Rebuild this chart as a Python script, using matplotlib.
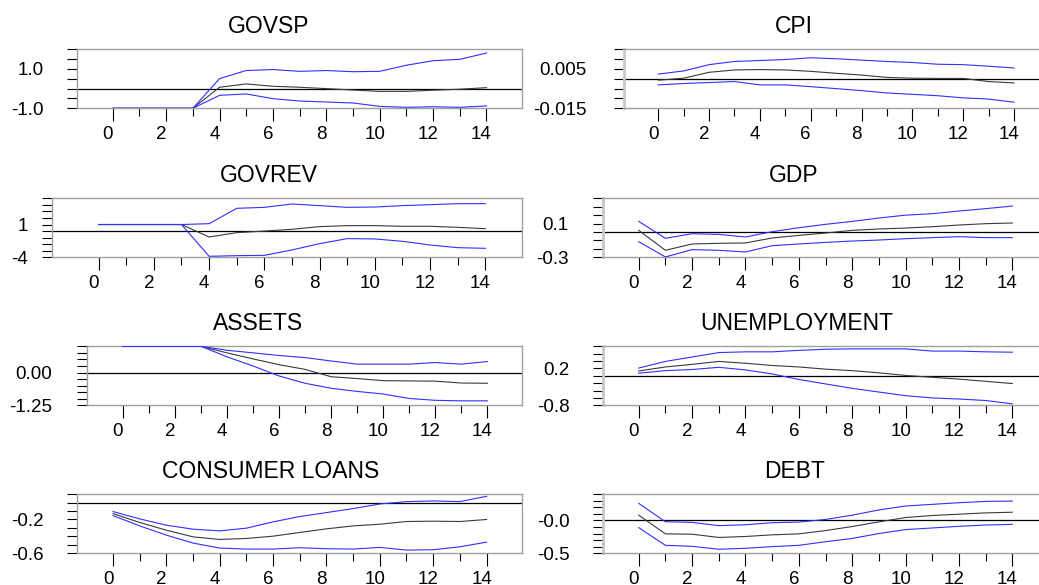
import matplotlib
matplotlib.use('Agg')
import matplotlib.pyplot as plt
import matplotlib.transforms as mtransforms
import numpy as np

plt.rcParams['font.family'] = ['Liberation Sans', 'DejaVu Sans']

# 응답 기간
horizon = list(range(15))

titles = ['GOVSP', 'CPI', 'GOVREV', 'GDP', 'ASSETS', 'UNEMPLOYMENT', 'CONSUMER LOANS', 'DEBT']

# 각 패널: 중앙값(검정), 상한/하한(파랑)
govsp_mid = [-1.0, -1.0, -1.0, -1.0, 0.07, 0.24, 0.12, 0.07, 0.0, -0.07, -0.14, -0.14, -0.08, -0.03, 0.05]
govsp_up = [-1.0, -1.0, -1.0, -1.0, 0.51, 0.92, 0.97, 0.88, 0.92, 0.86, 0.88, 1.19, 1.42, 1.49, 1.81]
govsp_lo = [-1.0, -1.0, -1.0, -1.0, -0.34, -0.27, -0.51, -0.63, -0.68, -0.73, -0.9, -0.95, -0.92, -0.95, -0.88]

cpi_mid = [-0.0007, 0.0003, 0.0033, 0.0045, 0.0047, 0.0045, 0.0038, 0.0028, 0.0019, 0.0007, 0.0003, 0.0002, 0.0002, -0.0014, -0.0021]
cpi_up = [0.0024, 0.004, 0.0072, 0.0088, 0.0093, 0.0098, 0.0107, 0.0102, 0.0095, 0.0088, 0.0083, 0.0074, 0.0072, 0.0064, 0.0055]
cpi_lo = [-0.0031, -0.0024, -0.0019, -0.0014, -0.0031, -0.0031, -0.004, -0.005, -0.006, -0.0072, -0.0079, -0.0086, -0.0097, -0.0103, -0.0119]

govrev_mid = [1.0, 1.0, 1.0, 1.0, -0.9, -0.24, 0.0, 0.27, 0.68, 0.83, 0.83, 0.73, 0.73, 0.57, 0.37]
govrev_up = [1.0, 1.0, 1.0, 1.0, 1.13, 3.47, 3.62, 4.13, 3.88, 3.62, 3.67, 3.88, 4.03, 4.18, 4.18]
govrev_lo = [1.0, 1.0, 1.0, 1.0, -3.85, -3.75, -3.7, -2.88, -1.92, -1.15, -1.2, -1.56, -2.12, -2.53, -2.63]

gdp_mid = [0.02, -0.217, -0.142, -0.134, -0.13, -0.071, -0.04, -0.012, 0.02, 0.036, 0.047, 0.063, 0.083, 0.099, 0.107]
gdp_up = [0.126, -0.075, -0.02, -0.028, -0.059, 0.004, 0.051, 0.091, 0.126, 0.166, 0.2, 0.217, 0.249, 0.277, 0.308]
gdp_lo = [-0.115, -0.296, -0.209, -0.217, -0.237, -0.162, -0.142, -0.123, -0.107, -0.095, -0.079, -0.067, -0.055, -0.067, -0.067]

assets_mid = [1.0, 1.0, 1.0, 1.0, 0.75, 0.52, 0.3, 0.12, -0.16, -0.23, -0.31, -0.32, -0.33, -0.4, -0.41]
assets_up = [1.0, 1.0, 1.0, 1.0, 0.85, 0.75, 0.65, 0.57, 0.44, 0.32, 0.32, 0.32, 0.38, 0.32, 0.42]
assets_lo = [1.0, 1.0, 1.0, 1.0, 0.6, 0.25, -0.13, -0.41, -0.6, -0.72, -0.82, -0.99, -1.06, -1.08, -1.08]

unemp_mid = [0.13, 0.24, 0.31, 0.39, 0.34, 0.28, 0.24, 0.18, 0.14, 0.08, 0.01, -0.04, -0.09, -0.15, -0.21]
unemp_up = [0.21, 0.39, 0.51, 0.63, 0.65, 0.65, 0.69, 0.72, 0.73, 0.73, 0.73, 0.67, 0.67, 0.65, 0.64]
unemp_lo = [0.07, 0.14, 0.17, 0.23, 0.16, 0.05, -0.1, -0.22, -0.34, -0.44, -0.54, -0.6, -0.63, -0.67, -0.76]

loans_mid = [-0.13, -0.236, -0.327, -0.406, -0.437, -0.425, -0.398, -0.354, -0.311, -0.276, -0.256, -0.224, -0.22, -0.224, -0.2]
loans_up = [-0.106, -0.193, -0.268, -0.315, -0.335, -0.303, -0.228, -0.165, -0.118, -0.071, -0.016, 0.012, 0.02, 0.012, 0.075]
loans_lo = [-0.154, -0.276, -0.386, -0.48, -0.539, -0.551, -0.551, -0.535, -0.547, -0.551, -0.531, -0.563, -0.559, -0.524, -0.469]

debt_mid = [0.08, -0.205, -0.21, -0.26, -0.245, -0.22, -0.205, -0.155, -0.093, -0.022, 0.044, 0.075, 0.095, 0.115, 0.125]
debt_up = [0.26, -0.02, -0.03, -0.08, -0.066, -0.035, -0.025, 0.015, 0.08, 0.16, 0.22, 0.245, 0.27, 0.29, 0.295]
debt_lo = [-0.11, -0.38, -0.395, -0.44, -0.425, -0.4, -0.38, -0.325, -0.275, -0.2, -0.14, -0.115, -0.09, -0.07, -0.06]

mids = [govsp_mid, cpi_mid, govrev_mid, gdp_mid, assets_mid, unemp_mid, loans_mid, debt_mid]
ups = [govsp_up, cpi_up, govrev_up, gdp_up, assets_up, unemp_up, loans_up, debt_up]
los = [govsp_lo, cpi_lo, govrev_lo, gdp_lo, assets_lo, unemp_lo, loans_lo, debt_lo]

# y축 범위, 눈금 간격, 표시할 눈금 라벨
y_ranges = [(-1.0, 2.0), (-0.015, 0.015), (-4, 5), (-0.3, 0.4), (-1.25, 1.0), (-0.8, 0.8), (-0.6, 0.1), (-0.5, 0.4)]
y_steps = [0.5, 0.005, 1, 0.1, 0.25, 0.2, 0.1, 0.1]
y_labels = [
    {1.0: '1.0', -1.0: '-1.0'},
    {0.005: '0.005', -0.015: '-0.015'},
    {1: '1', -4: '-4'},
    {0.1: '0.1', -0.3: '-0.3'},
    {0.0: '0.00', -1.25: '-1.25'},
    {0.2: '0.2', -0.8: '-0.8'},
    {-0.2: '-0.2', -0.6: '-0.6'},
    {0.0: '-0.0', -0.5: '-0.5'},
]

W, H = 1039, 585
fig = plt.figure(figsize=(W / 100, H / 100), dpi=100)

# 패널 배치 (픽셀)
left_px = [77, 623.7, 51.7, 602.7, 87.3, 602.7, 77.3, 602.7]
right_px = [522, 1047, 522, 1047, 522, 1047, 522, 1047]
xmins = [-1.34, -1.36, -1.70, -1.35, -1.36, -1.35, -1.34, -1.35]
xmaxs = [15.33, 15.3, 15.33, 15.3, 15.33, 15.3, 15.33, 15.3]
row_top = [49.3, 198.3, 346.3, 494.2]
panel_h = 59
title_x = [269, 794, 269, 794, 258.5, 796.7, 271, 794.2]
label_gap = [33.7, 37, 23.4, 34.4, 35.6, 33.4, 34, 33.4]

gray = '#a0a0a0'
offset = mtransforms.ScaledTranslation(-5 / 100, 0, fig.dpi_scale_trans)

for i in range(8):
    top = row_top[i // 2]
    ax = fig.add_axes([left_px[i] / W, 1 - (top + panel_h) / H,
                       (right_px[i] - left_px[i]) / W, panel_h / H])
    ax.axhline(0, color='black', lw=0.9, zorder=1)
    ax.plot(horizon, mids[i], color='#3a3a3a', lw=0.8, zorder=2)
    ax.plot(horizon, ups[i], color='#3030ff', lw=0.8, zorder=3)
    ax.plot(horizon, los[i], color='#3030ff', lw=0.8, zorder=3)

    ax.set_xlim(xmins[i], xmaxs[i])
    lo, hi = y_ranges[i]
    ax.set_ylim(lo, hi)

    ticks = np.arange(lo, hi + y_steps[i] / 2, y_steps[i])
    labs = []
    for t in ticks:
        s = ''
        for k, v in y_labels[i].items():
            if abs(t - k) < y_steps[i] / 10:
                s = v
        labs.append(s)
    ax.set_yticks(ticks)
    ax.set_yticklabels(labs)
    ax.tick_params(axis='y', direction='out', length=7.2, width=0.8, color='black',
                   labelsize=13.5, pad=(label_gap[i] - 10) * 0.72)

    ax.set_xticks(range(0, 15, 2))
    ax.set_xticks(range(1, 15, 2), minor=True)
    ax.tick_params(axis='x', which='major', direction='out', length=9.6, width=0.8,
                   color='black', labelsize=13.5, pad=3)
    ax.tick_params(axis='x', which='minor', direction='out', length=6, width=0.8, color='black')
    for lab in ax.get_xticklabels():
        lab.set_transform(lab.get_transform() + offset)

    for sp in ax.spines.values():
        sp.set_color(gray)
        sp.set_linewidth(1)
    if i % 2 == 1:
        # 오른쪽 열은 왼쪽 테두리가 두껍고 옅다
        ax.spines['left'].set_color('#c8c8c8')
        ax.spines['left'].set_linewidth(2)

    fig.text(title_x[i] / W, 1 - (top - 22.5) / H, titles[i], ha='center', va='center',
             fontsize=16.5)

fig.savefig('out.png', dpi=100)
